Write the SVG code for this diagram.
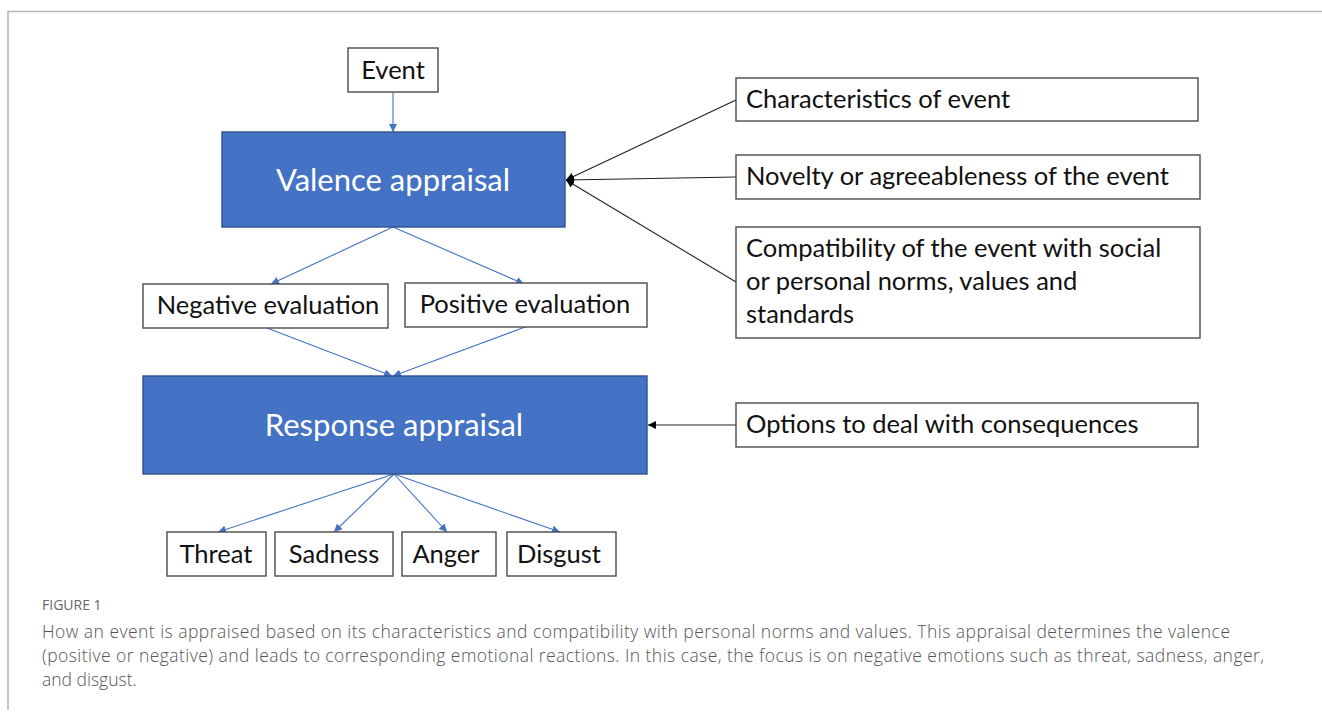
<svg xmlns="http://www.w3.org/2000/svg" width="1322" height="713" viewBox="0 0 1322 713">
  <defs>
    <marker id="arrowBlue" viewBox="0 0 10 10" refX="10" refY="5" markerWidth="8" markerHeight="8" markerUnits="userSpaceOnUse" orient="auto">
      <path d="M0,0 L10,5 L0,10 z" fill="#4472C4"/>
    </marker>
    <marker id="arrowBlack" viewBox="0 0 10 10" refX="10" refY="5" markerWidth="8" markerHeight="8" markerUnits="userSpaceOnUse" orient="auto">
      <path d="M0,0 L10,5 L0,10 z" fill="#000"/>
    </marker>
  </defs>
  <style>
    .frame { fill: none; stroke: #b4b4b4; stroke-width: 1.5; }
    .box { fill: #fff; stroke: #4a4a4a; stroke-width: 1.4; }
    .hub { fill: #4472C4; stroke: #2F528F; stroke-width: 1.4; }
    .lbl { font-family: Lato, "Open Sans", "Liberation Sans", sans-serif; font-size: 25.5px; fill: #111; }
    .mid { text-anchor: middle; }
    .hubtxt { font-family: Lato, "Open Sans", "Liberation Sans", sans-serif; font-size: 31px; fill: #fff; text-anchor: middle; }
    .blue { stroke: #4472C4; stroke-width: 1.1; fill: none; marker-end: url(#arrowBlue); }
    .black { stroke: #222; stroke-width: 1.1; fill: none; marker-end: url(#arrowBlack); }
    .figno { font-family: "Open Sans", "Liberation Sans", sans-serif; font-size: 14px; fill: #666; }
    .cap { font-family: "Open Sans", "Liberation Sans", sans-serif; font-size: 17.5px; font-weight: 300; fill: #555; }
  </style>

  <rect width="1322" height="713" fill="#fff"/>
  <path class="frame" d="M1322,11.5 H8 V710"/>

  <g id="connectors">
    <line class="blue" x1="393" y1="92" x2="393" y2="132"/>
    <line class="blue" x1="393" y1="227" x2="271" y2="284"/>
    <line class="blue" x1="393" y1="227" x2="524" y2="284"/>
    <line class="blue" x1="267" y1="328" x2="392" y2="376"/>
    <line class="blue" x1="525" y1="327" x2="393" y2="376"/>
    <line class="blue" x1="394" y1="474" x2="218" y2="532"/>
    <line class="blue" x1="394" y1="474" x2="334" y2="532"/>
    <line class="blue" x1="394" y1="474" x2="447" y2="532"/>
    <line class="blue" x1="394" y1="474" x2="560" y2="532"/>
    <line class="black" x1="736" y1="100" x2="566" y2="180"/>
    <line class="black" x1="736" y1="177" x2="566" y2="180"/>
    <line class="black" x1="736" y1="282" x2="566" y2="180"/>
    <line class="black" x1="736" y1="425" x2="648" y2="425"/>
  </g>

  <g id="event">
    <rect class="box" x="348" y="48" width="90" height="44"/>
    <text class="lbl mid" x="393" y="79">Event</text>
  </g>

  <g id="valence-appraisal">
    <rect class="hub" x="222" y="132" width="343" height="95"/>
    <text class="hubtxt" x="393" y="191">Valence appraisal</text>
  </g>

  <g id="negative-evaluation">
    <rect class="box" x="143" y="284" width="245" height="44"/>
    <text class="lbl mid" x="268" y="314">Negative evaluation</text>
  </g>

  <g id="positive-evaluation">
    <rect class="box" x="405" y="283" width="242" height="44"/>
    <text class="lbl mid" x="525" y="313">Positive evaluation</text>
  </g>

  <g id="response-appraisal">
    <rect class="hub" x="143" y="376" width="504" height="98"/>
    <text class="hubtxt" x="394" y="436">Response appraisal</text>
  </g>

  <g id="threat">
    <rect class="box" x="167" y="532" width="99" height="44"/>
    <text class="lbl mid" x="216" y="563">Threat</text>
  </g>
  <g id="sadness">
    <rect class="box" x="275" y="532" width="118" height="44"/>
    <text class="lbl mid" x="334" y="563">Sadness</text>
  </g>
  <g id="anger">
    <rect class="box" x="402" y="532" width="94" height="44"/>
    <text class="lbl mid" x="446" y="563">Anger</text>
  </g>
  <g id="disgust">
    <rect class="box" x="507" y="532" width="109" height="44"/>
    <text class="lbl mid" x="559" y="563">Disgust</text>
  </g>

  <g id="characteristics">
    <rect class="box" x="736" y="78" width="462" height="43"/>
    <text class="lbl" x="746" y="108">Characteristics of event</text>
  </g>
  <g id="novelty">
    <rect class="box" x="736" y="155" width="464" height="44"/>
    <text class="lbl" x="746" y="185">Novelty or agreeableness of the event</text>
  </g>
  <g id="compatibility">
    <rect class="box" x="736" y="227" width="464" height="111"/>
    <text class="lbl" x="746" y="257">Compatibility of the event with social</text>
    <text class="lbl" x="746" y="290">or personal norms, values and</text>
    <text class="lbl" x="746" y="323">standards</text>
  </g>
  <g id="options">
    <rect class="box" x="736" y="403" width="462" height="44"/>
    <text class="lbl" x="746" y="433">Options to deal with consequences</text>
  </g>

  <g id="caption">
    <text class="figno" x="42" y="610">FIGURE 1</text>
    <text class="cap" x="42" y="638" textLength="1188" lengthAdjust="spacing">How an event is appraised based on its characteristics and compatibility with personal norms and values. This appraisal determines the valence</text>
    <text class="cap" x="42" y="662" textLength="1222" lengthAdjust="spacing">(positive or negative) and leads to corresponding emotional reactions. In this case, the focus is on negative emotions such as threat, sadness, anger,</text>
    <text class="cap" x="42" y="686">and disgust.</text>
  </g>
</svg>
